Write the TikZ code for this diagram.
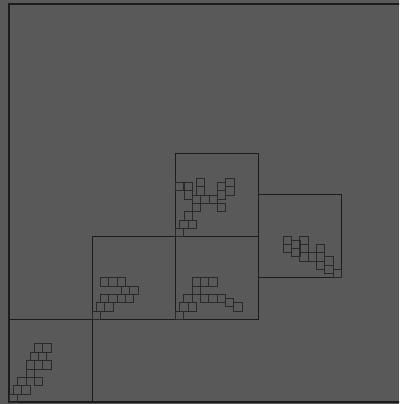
\documentclass[tikz,border=0pt]{standalone}
\usepackage{xcolor}
\usepackage{tikz}
\definecolor{bggray}{RGB}{89,89,89}
\definecolor{framedark}{RGB}{28,28,28}
\definecolor{celldark}{RGB}{42,42,42}

\begin{document}
\begin{tikzpicture}[
    x=1pt, y=-1pt,
    outer/.style={draw=framedark, line width=1.2pt},
    region/.style={draw=framedark, line width=0.9pt},
    cell/.style={draw=celldark, line width=0.9pt},
]

% ── Canvas ──
\fill[bggray] (0,0) rectangle (399,404);
\useasboundingbox (0,0) rectangle (399,404);
\clip (0,0) rectangle (399,404);

% ── Outer square ──
\draw[outer] (9,4) rectangle (407,402);

% ── Regions ──
\foreach \rx/\ry in {9/319, 92/236, 175/153, 175/236, 258/194.5}
    \draw[region] (\rx,\ry) rectangle ++(83,83);

% ── Cells, region 1 ──
\foreach \cx/\cy in {34.3/343.7, 42.7/343.7, 30/352.3, 38.3/352.3,
    26/360.7, 34.3/360.7, 42.7/360.7, 26/369, 17.7/377.3, 34.3/377.3,
    13.3/385.7, 21.7/385.7, 9.3/394}
    \draw[cell] (\cx,\cy) rectangle ++(8.3,8.3);

% ── Cells, region 2 ──
\foreach \cx/\cy in {100.3/277.7, 108.7/277.7, 117/277.7, 121.3/286, 129.7/286,
    100.3/294.3, 108.7/294.3, 117/294.3, 125.3/294.3,
    96.3/302.7, 104.7/302.7, 92.3/311}
    \draw[cell] (\cx,\cy) rectangle ++(8.3,8.3);

% ── Cells, region 3 ──
\foreach \cx/\cy in {175.5/182.3, 184/182.3, 184/190.7, 196.3/178.3, 196.3/186.7,
    192.3/195, 200.7/195, 209/195, 217.3/182.3, 217.3/190.7,
    225.7/178.3, 225.7/186.7, 192.3/203.3, 217.3/203.3,
    184/211.7, 179.7/220, 188/220, 175.5/228}
    \draw[cell] (\cx,\cy) rectangle ++(8.3,8.3);

% ── Cells, region 4 ──
\foreach \cx/\cy in {192/277.7, 200.3/277.7, 208.7/277.7, 192/286,
    183.7/294.3, 200.3/294.3, 208.7/294.3, 217/294.3, 225.3/298.3,
    179.7/302.7, 188/302.7, 233.7/302.7, 175.3/311}
    \draw[cell] (\cx,\cy) rectangle ++(8.3,8.3);

% ── Cells, region 5 ──
\foreach \cx/\cy in {283.3/236, 283.3/244.3, 291.7/240, 291.7/248.3,
    299.7/236, 299.7/244.3, 299.7/252.7, 308/252.7,
    316.3/244.3, 316.3/252.7, 316.3/261, 324.7/256.7, 324.7/265, 333/269.3}
    \draw[cell] (\cx,\cy) rectangle ++(8.3,8.3);

\end{tikzpicture}
\end{document}
